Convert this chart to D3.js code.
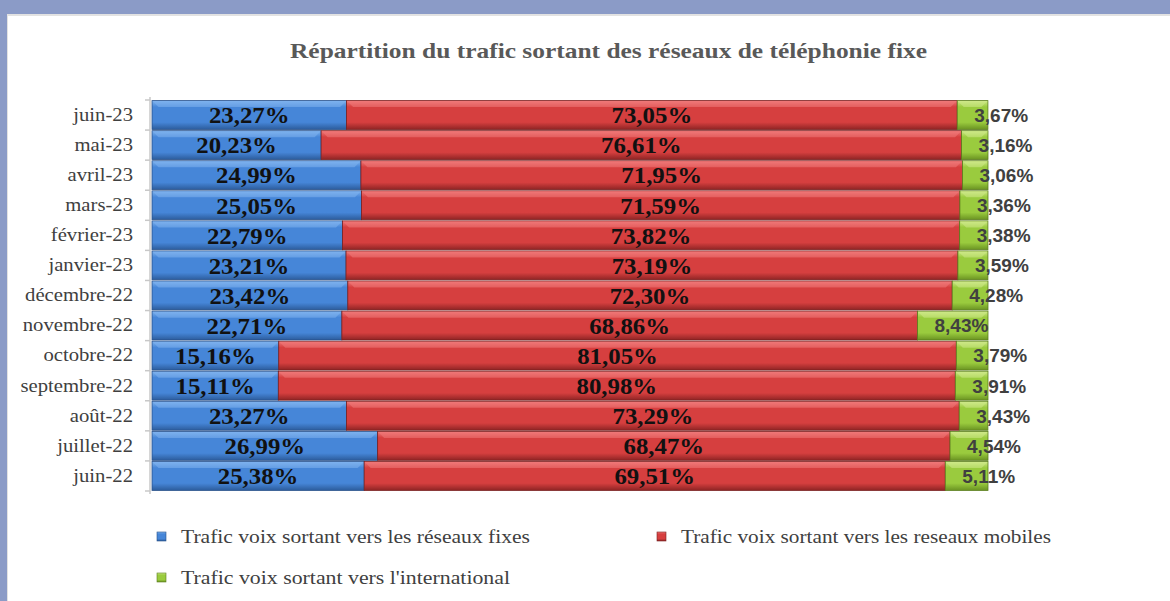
<!DOCTYPE html>
<html>
<head>
<meta charset="utf-8">
<script src="https://cdn.jsdelivr.net/npm/d3@7"></script>
<style>
  body { margin: 0; background: #8b9bc7; }
  svg { display: block; }
</style>
</head>
<body>
<div id="chart"></div>
<script>
// months, top to bottom as in the picture
var months = ["juin-23", "mai-23", "avril-23", "mars-23", "février-23", "janvier-23",
  "décembre-22", "novembre-22", "octobre-22", "septembre-22", "août-22", "juillet-22", "juin-22"];

var fixes = [23.27, 20.23, 24.99, 25.05, 22.79, 23.21, 23.42, 22.71, 15.16, 15.11, 23.27, 26.99, 25.38];
var mobiles = [73.05, 76.61, 71.95, 71.59, 73.82, 73.19, 72.30, 68.86, 81.05, 80.98, 73.29, 68.47, 69.51];
var international = [3.67, 3.16, 3.06, 3.36, 3.38, 3.59, 4.28, 8.43, 3.79, 3.91, 3.43, 4.54, 5.11];

var seriesNames = ["Trafic voix sortant  vers les réseaux fixes",
  "Trafic voix sortant vers les reseaux mobiles",
  "Trafic voix sortant vers l'international"];

var svgWidth = 1170;
var svgHeight = 601;
var margin = {top: 100, right: 182, bottom: 110, left: 152};
var width = svgWidth - margin.left - margin.right;
var height = svgHeight - margin.top - margin.bottom;

var svg = d3.select("#chart").append("svg")
  .attr("width", svgWidth)
  .attr("height", svgHeight);

// white panel inside the blue frame
svg.append("rect").attr("x", 7).attr("y", 14).attr("width", svgWidth - 7).attr("height", svgHeight - 14)
  .attr("fill", "#e2e2e2");
svg.append("rect").attr("x", 8).attr("y", 16).attr("width", svgWidth - 8).attr("height", svgHeight - 16)
  .attr("fill", "#ffffff");

// bevel-ish gradients
var colors = [
  {id: "gBlue", light: "#7fb3ee", mid: "#4686d8", dark: "#2c5c9c", edge: "#27508a"},
  {id: "gRed", light: "#f07a7a", mid: "#d63f3f", dark: "#8e2424", edge: "#7a1f1f"},
  {id: "gGreen", light: "#cfe98a", mid: "#9acb3e", dark: "#6a9322", edge: "#5a7d1c"}
];
var defs = svg.append("defs");
colors.forEach(function(c) {
  var g = defs.append("linearGradient").attr("id", c.id)
    .attr("x1", 0).attr("y1", 0).attr("x2", 0).attr("y2", 1);
  g.append("stop").attr("offset", "0%").attr("stop-color", c.light);
  g.append("stop").attr("offset", "22%").attr("stop-color", c.mid);
  g.append("stop").attr("offset", "75%").attr("stop-color", c.mid);
  g.append("stop").attr("offset", "100%").attr("stop-color", c.dark);
});

var chartGroup = svg.append("g")
  .attr("transform", `translate(${margin.left}, ${margin.top})`);

var rows = months.map(function(m, i) {
  return {month: m, fixes: fixes[i], mobiles: mobiles[i], international: international[i]};
});
var keys = ["fixes", "mobiles", "international"];
var stacked = d3.stack().keys(keys)(rows);

var xScale = d3.scaleLinear().domain([0, 100]).range([0, width]);
var yScale = d3.scaleBand().domain(months).range([0, height]).paddingInner(0.04).paddingOuter(0.02);

// y axis: labels only, then line and boundary ticks drawn by hand
var leftAxis = d3.axisLeft(yScale).tickSize(0).tickPadding(19);
var yAxis = chartGroup.append("g").call(leftAxis);
yAxis.select(".domain").remove();
yAxis.selectAll("text")
  .attr("font-family", "'Liberation Serif', 'Times New Roman', serif")
  .attr("font-size", 18)
  .attr("fill", "#404040")
  .attr("transform", "scale(1.15,1)")
  .attr("x", -19 / 1.15);

var step = yScale.step();
var axisX = -2;
chartGroup.append("line")
  .attr("x1", axisX).attr("x2", axisX)
  .attr("y1", -3).attr("y2", height + 3)
  .attr("stroke", "#c8c8c8").attr("stroke-width", 1.5);
d3.range(months.length + 1).forEach(function(i) {
  var yy = i === months.length ? height : yScale(months[i]) - step * yScale.paddingInner() / 2;
  chartGroup.append("line")
    .attr("x1", axisX - 5).attr("x2", axisX)
    .attr("y1", yy).attr("y2", yy)
    .attr("stroke", "#c8c8c8").attr("stroke-width", 1.5);
});

// bars
var layers = chartGroup.selectAll(".layer")
  .data(stacked)
  .enter().append("g")
  .attr("class", "layer")
  .attr("fill", (d, i) => `url(#${colors[i].id})`);

layers.selectAll("rect")
  .data((d, i) => d.map(p => ({p: p, s: i})))
  .enter().append("rect")
  .attr("x", d => xScale(d.p[0]))
  .attr("y", d => yScale(d.p.data.month))
  .attr("width", d => xScale(d.p[1]) - xScale(d.p[0]))
  .attr("height", yScale.bandwidth())
  .attr("stroke", d => colors[d.s].edge)
  .attr("stroke-width", 0.8);

// small bevel highlight on the top of each segment
layers.selectAll("path")
  .data((d, i) => d.map(p => ({p: p, s: i})))
  .enter().append("path")
  .attr("d", function(d) {
    var x0 = xScale(d.p[0]) + 0.5, x1 = xScale(d.p[1]) - 0.5;
    var y0 = yScale(d.p.data.month) + 0.5;
    var b = Math.min(6, (x1 - x0) / 2);
    return `M${x0},${y0}L${x1},${y0}L${x1 - b},${y0 + b}L${x0 + b},${y0 + b}Z`;
  })
  .attr("fill", d => colors[d.s].light)
  .attr("opacity", 0.55);

// value labels
function valText(v) {
  return v.toFixed(2).replace(".", ",") + "%";
}

stacked.forEach(function(layer, i) {
  layer.forEach(function(p) {
    var yy = yScale(p.data.month) + yScale.bandwidth() / 2;
    if (i < 2) {
      var cx = (xScale(p[0]) + xScale(p[1])) / 2;
      chartGroup.append("text")
        .attr("transform", `translate(${cx},${yy}) scale(1.08,1)`)
        .attr("text-anchor", "middle")
        .attr("dy", "0.36em")
        .attr("font-family", "'Liberation Serif', 'Times New Roman', serif")
        .attr("font-weight", "bold")
        .attr("font-size", 23)
        .attr("fill", "#111")
        .text(valText(p.data[keys[i]]));
    } else {
      chartGroup.append("text")
        .attr("transform", `translate(${xScale(p[0]) + 17},${yy})`)
        .attr("text-anchor", "start")
        .attr("dy", "0.36em")
        .attr("font-family", "'Liberation Sans', Arial, sans-serif")
        .attr("font-weight", "bold")
        .attr("font-size", 19)
        .attr("fill", "#404040")
        .text(valText(p.data[keys[i]]));
    }
  });
});

// title
svg.append("text")
  .attr("x", 290).attr("y", 58)
  .attr("textLength", 637)
  .attr("lengthAdjust", "spacingAndGlyphs")
  .attr("font-family", "'Liberation Serif', 'Times New Roman', serif")
  .attr("font-weight", "bold")
  .attr("font-size", 22)
  .attr("fill", "#595959")
  .text("Répartition du trafic sortant des réseaux de téléphonie fixe");

// legend
var legendPos = [
  {x: 157, y: 537, w: 349},
  {x: 657, y: 537, w: 370},
  {x: 157, y: 578, w: 329}
];
seriesNames.forEach(function(name, i) {
  var lp = legendPos[i];
  var lg = svg.append("g").attr("transform", `translate(${lp.x},${lp.y})`);
  lg.append("rect")
    .attr("x", 0).attr("y", -5).attr("width", 9).attr("height", 9)
    .attr("fill", `url(#${colors[i].id})`)
    .attr("stroke", colors[i].edge).attr("stroke-width", 0.6);
  lg.append("text")
    .attr("x", 24).attr("y", 0)
    .attr("dy", "0.35em")
    .attr("textLength", lp.w)
    .attr("lengthAdjust", "spacingAndGlyphs")
    .attr("font-family", "'Liberation Serif', 'Times New Roman', serif")
    .attr("font-size", 18)
    .attr("fill", "#404040")
    .text(name);
});
</script>
</body>
</html>
